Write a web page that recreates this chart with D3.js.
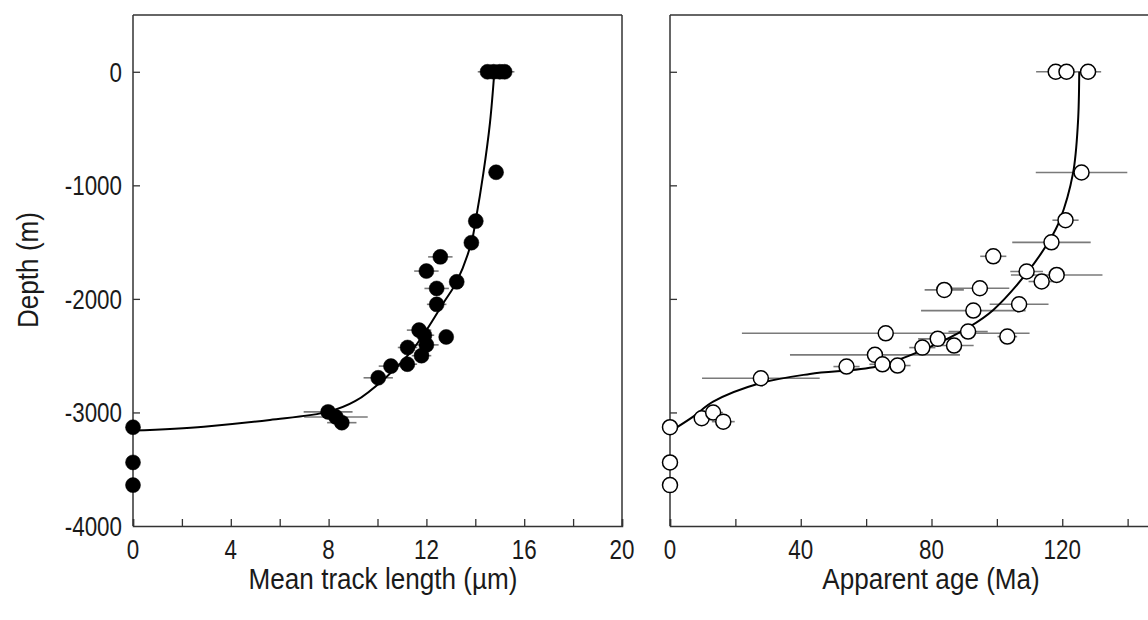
<!DOCTYPE html>
<html><head><meta charset="utf-8">
<script src="https://cdn.jsdelivr.net/npm/d3@7"></script>
<style>
html,body{margin:0;padding:0;background:#fff;}
text{font-family:"Liberation Sans",Arial,sans-serif;fill:#1a1a1a;}
</style></head>
<body><svg id="c" width="1148" height="620"></svg>
<script>
// ---- Data ----
const lenDepth = [0, 0, 0, 0, -885, -1315, -1505, -1630, -1755, -1850, -1908, -2048, -2275, -2320, -2335, -2405, -2428, -2500, -2575, -2592, -2695, -2995, -3040, -3090, -3130, -3440, -3640];
const lenValue = [14.5, 14.75, 15.0, 15.2, 14.85, 14.02, 13.84, 12.57, 12.0, 13.24, 12.42, 12.42, 11.7, 11.92, 12.81, 12.0, 11.23, 11.8, 11.22, 10.55, 10.03, 7.98, 8.3, 8.54, 0, 0, 0];
const lenError = [0.4, 0.3, 0.3, 0.4, 0.2, 0.3, 0.2, 0.5, 0.5, 0.3, 0.5, 0.4, 0.5, 0.4, 0.2, 0.5, 0.4, 0.4, 0.4, 0.5, 0.6, 1.0, 1.3, 0.6, 0, 0, 0];

const ageDepth = [0, 0, 0, -887, -1307, -1502, -1625, -1759, -1789, -1847, -1921, -1906, -2103, -2047, -2288, -2303, -2332, -2352, -2429, -2411, -2493, -2576, -2587, -2596, -2699, -3051, -3001, -3081, -3130, -3440, -3640];
const ageValue = [118.0, 121.3, 127.9, 125.9, 121.0, 116.7, 98.9, 109.1, 118.3, 113.7, 83.9, 94.8, 92.8, 106.8, 91.2, 66.0, 103.2, 81.9, 77.2, 86.9, 62.7, 65.0, 69.6, 54.0, 27.8, 9.7, 13.2, 16.3, 0, 0, 0];
const ageError = [6, 3, 4, 14, 4, 12, 4, 5, 14, 4, 6, 9, 16, 9, 6, 44, 3, 6, 4, 6, 26, 4, 4, 4, 18, 2, 3, 3.5, 0, 0, 0];

const lenCurveValue = [0, 2.9, 5.6, 8.0, 9.1, 10.3, 11.33, 12.01, 12.69, 13.24, 13.84, 14.02, 14.33, 14.6, 14.78];
const lenCurveDepth = [-3160, -3125, -3066, -2993, -2899, -2700, -2476, -2273, -2038, -1848, -1504, -1304, -893, -450, 0];
const ageCurveValue = [0, 7.1, 13.2, 27.5, 42.8, 63.2, 77.5, 91.7, 98.9, 109.1, 116.2, 119.3, 123.3, 124.8, 125.2];
const ageCurveDepth = [-3169, -3037, -2905, -2743, -2661, -2596, -2449, -2244, -2097, -1774, -1480, -1304, -893, -450, 0];

const depthTicks = [0, -1000, -2000, -3000, -4000];
const lenTicks = [0, 2, 4, 6, 8, 10, 12, 14, 16, 18, 20];
const lenTickLabels = [0, 4, 8, 12, 16, 20];
const ageTicks = [0, 20, 40, 60, 80, 100, 120, 140, 160];
const ageTickLabels = [0, 40, 80, 120];

const depthTitle = "Depth (m)";
const lenTitle = "Mean track length (µm)";
const ageTitle = "Apparent age (Ma)";

// ---- Layout ----
const svg = d3.select("#c");
const TOP = 15, BOT = 526;
const y = d3.scaleLinear().domain([-4000, 500]).range([BOT, TOP]);
const xL = d3.scaleLinear().domain([0, 20]).range([133, 622]);
const xR = d3.scaleLinear().domain([0, 160]).range([670, 1193]);
const axisCol = "#333", tickFont = 28, tickSX = 0.8, titleFont = 29, titleSX = 0.9;

function label(g, x, yy, txt, size, sx, anchor, rot) {
  return g.append("text")
    .attr("transform", `translate(${x},${yy})${rot ? " rotate(" + rot + ")" : ""} scale(${sx},1)`)
    .attr("text-anchor", anchor).attr("font-size", size).text(txt);
}

function panel(x, ticksX, labelsX, showYLabels, showRight) {
  const g = svg.append("g");
  g.append("line").attr("x1", x.range()[0]).attr("x2", x.range()[1]).attr("y1", TOP).attr("y2", TOP).attr("stroke", axisCol).attr("stroke-width", 1.5);
  if (showRight) g.append("line").attr("x1", x.range()[1]).attr("x2", x.range()[1]).attr("y1", TOP).attr("y2", BOT).attr("stroke", axisCol).attr("stroke-width", 1.5);
  const bx = g.append("g").attr("transform", `translate(0,${BOT})`)
    .call(d3.axisBottom(x).tickValues(ticksX).tickSize(-7).tickFormat(""));
  bx.select(".domain").attr("stroke", axisCol).attr("stroke-width", 1.5);
  bx.selectAll(".tick line").attr("stroke", axisCol).attr("stroke-width", 1.3);
  labelsX.forEach(d => label(g, x(d), BOT + 33, d, tickFont, tickSX, "middle"));
  const ly = g.append("g").attr("transform", `translate(${x.range()[0]},0)`)
    .call(d3.axisLeft(y).tickValues(depthTicks.slice(0, 4)).tickSize(-7).tickFormat(""));
  ly.select(".domain").remove();
  g.append("line").attr("x1", x.range()[0]).attr("x2", x.range()[0]).attr("y1", TOP).attr("y2", BOT).attr("stroke", axisCol).attr("stroke-width", 1.5);
  ly.selectAll(".tick line").attr("stroke", axisCol).attr("stroke-width", 1.3);
  if (showYLabels) {
    depthTicks.forEach(d => label(g, x.range()[0] - 11, y(d) + 10, d, tickFont, tickSX, "end"));
  }
  return g;
}

panel(xL, lenTicks, lenTickLabels, true, true);
panel(xR, ageTicks, ageTickLabels, false, false);

function drawData(x, vals, deps, errs, cv, cd, filled) {
  const g = svg.append("g");
  const pts = vals.map((v, i) => ({v, d: deps[i], e: errs[i]}));
  g.selectAll("line.err").data(pts.filter(p => p.e > 0)).join("line")
    .attr("x1", p => x(p.v - p.e)).attr("x2", p => x(p.v + p.e))
    .attr("y1", p => y(p.d)).attr("y2", p => y(p.d))
    .attr("stroke", "#7a7a7a").attr("stroke-width", 1.6);
  const curve = cv.map((v, i) => [x(v), y(cd[i])]);
  g.append("path").attr("d", d3.line().curve(d3.curveCatmullRom.alpha(0.5))(curve))
    .attr("fill", "none").attr("stroke", "#000").attr("stroke-width", 2);
  g.selectAll("circle").data(pts).join("circle")
    .attr("cx", p => x(p.v)).attr("cy", p => y(p.d)).attr("r", 7.5)
    .attr("fill", filled ? "#000" : "#fff").attr("stroke", "#000").attr("stroke-width", filled ? 0.5 : 1.5);
}
drawData(xL, lenValue, lenDepth, lenError, lenCurveValue, lenCurveDepth, true);
drawData(xR, ageValue, ageDepth, ageError, ageCurveValue, ageCurveDepth, false);

// Titles
label(svg, 38, 270, depthTitle, titleFont, titleSX, "middle", -90);
label(svg, 383, 589, lenTitle, titleFont, titleSX, "middle");
label(svg, 931, 589, ageTitle, titleFont, titleSX, "middle");
</script></body></html>
